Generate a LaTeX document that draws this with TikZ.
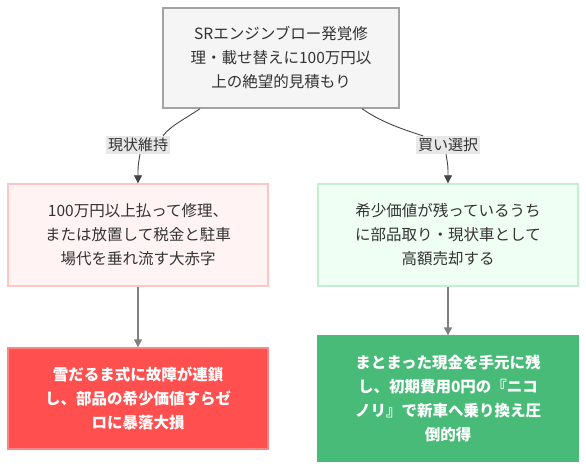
\documentclass[tikz,border=0pt]{standalone}
\usepackage{fontspec}
\setmainfont{Noto Sans CJK JP}
\usetikzlibrary{arrows.meta}
\definecolor{txtgray}{HTML}{333333}
\definecolor{linegray}{HTML}{444444}
\definecolor{topfill}{HTML}{F5F5F5}
\definecolor{topline}{HTML}{A3A3A3}
\definecolor{badfill}{HTML}{FFF3F3}
\definecolor{badline}{HTML}{FFC4C4}
\definecolor{goodfill}{HTML}{F0FFF4}
\definecolor{goodline}{HTML}{C2EFCF}
\definecolor{worstfill}{HTML}{FF4F4F}
\definecolor{worstline}{HTML}{FF8585}
\definecolor{bestfill}{HTML}{48BB78}
\definecolor{lblfill}{HTML}{E8E8E8}
\begin{document}
\begin{tikzpicture}[x=1pt,y=-1pt,
        box/.style={draw,line width=1.4pt,align=center,inner sep=0pt,
            minimum width=260pt,text width=250pt,text=txtgray,
            font=\fontsize{15.5}{24}\selectfont},
        lbl/.style={fill=lblfill,inner sep=2pt,text=txtgray,
            font=\fontsize{15}{18}\selectfont},
        link/.style={draw=linegray,line width=0.9pt},
        arr/.style={link,-{Triangle[length=8pt,width=8pt]}}]
\useasboundingbox (0,0) rectangle (586,470);

\node[box,fill=topfill,draw=topline,minimum width=236pt,text width=230pt,
    minimum height=100pt] (top) at (281,58)
    {SRエンジンブロー発覚修\\理・載せ替えに100万円以\\上の絶望的見積もり};

\node[box,fill=badfill,draw=badline,minimum height=102pt] (keep) at (138,235)
    {100万円以上払って修理、\\または放置して税金と駐車\\場代を垂れ流す大赤字};
\node[box,fill=goodfill,draw=goodline,minimum height=102pt] (sell) at (448,235)
    {希少価値が残っているうち\\に部品取り・現状車として\\高額売却する};

\node[box,fill=worstfill,draw=worstline,text=white,minimum height=101pt,
    font=\fontsize{15.5}{24}\selectfont\bfseries] (loss) at (138,398.5)
    {雪だるま式に故障が連鎖\\し、部品の希少価値すらゼ\\ロに暴落大損};
\node[box,fill=bestfill,draw=bestfill,text=white,minimum height=125pt,
    font=\fontsize{15.5}{24}\selectfont\bfseries] (gain) at (448,398.5)
    {まとまった現金を手元に残\\し、初期費用0円の『ニコ\\ノリ』で新車へ乗り換え圧\\倒的得};

% edge labels
\node[lbl] (keeplbl) at (138,145) {現状維持};
\node[lbl] (selllbl) at (448,145) {買い選択};

\draw[link] ([xshift=-81pt]top.south) .. controls (185,119) and (170,126) .. ([xshift=25pt]keeplbl.north);
\draw[arr] ([xshift=2pt]keeplbl.south) .. controls (138,166) .. (keep.north);
\draw[link] ([xshift=81pt]top.south) .. controls (377,119) and (392,126) .. ([xshift=-25pt]selllbl.north);
\draw[arr] ([xshift=-2pt]selllbl.south) .. controls (448,166) .. (sell.north);

\draw[arr,line width=1.3pt,draw=gray] (keep.south) -- (loss.north);
\draw[arr,line width=1.3pt,draw=gray] (sell.south) -- (gain.north);
\end{tikzpicture}
\end{document}
